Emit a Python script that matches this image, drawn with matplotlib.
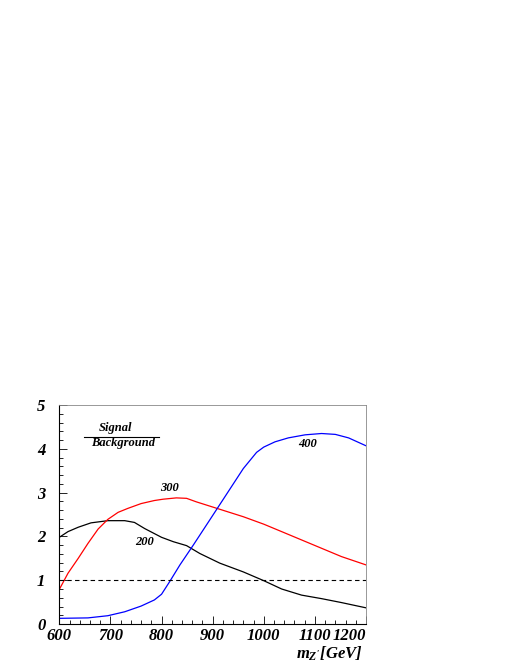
import matplotlib
matplotlib.use("Agg")
import matplotlib.pyplot as plt
from matplotlib.ticker import MultipleLocator

plt.rcParams["mathtext.fontset"] = "custom"
plt.rcParams["mathtext.it"] = "Liberation Serif:bold:italic"
plt.rcParams["mathtext.rm"] = "Liberation Serif:bold:italic"

x200 = [600, 617, 637, 662, 695, 728, 747, 767, 800, 823, 849, 875, 914, 960, 1000, 1035, 1074, 1113, 1152, 1200]
y200 = [1.98, 2.11, 2.21, 2.31, 2.36, 2.36, 2.32, 2.18, 1.98, 1.88, 1.79, 1.61, 1.39, 1.19, 0.99, 0.80, 0.66, 0.58, 0.49, 0.37]

x300 = [600, 617, 637, 656, 676, 695, 715, 734, 760, 786, 803, 829, 849, 868, 914, 960, 1000, 1035, 1074, 1113, 1152, 1200]
y300 = [0.79, 1.16, 1.50, 1.84, 2.17, 2.39, 2.55, 2.64, 2.75, 2.82, 2.85, 2.88, 2.87, 2.79, 2.62, 2.45, 2.28, 2.11, 1.92, 1.73, 1.54, 1.35]

x400 = [600, 656, 695, 728, 760, 786, 800, 816, 836, 862, 894, 927, 960, 986, 1000, 1022, 1048, 1081, 1113, 1140, 1166, 1200]
y400 = [0.13, 0.14, 0.19, 0.28, 0.41, 0.55, 0.68, 0.97, 1.35, 1.80, 2.37, 2.96, 3.55, 3.92, 4.04, 4.16, 4.25, 4.32, 4.35, 4.33, 4.25, 4.07]

ref_level = 1.0
xticks = [600, 700, 800, 900, 1000, 1100, 1200]
yticks = [0, 1, 2, 3, 4, 5]

font = dict(family="Liberation Serif", weight="bold", style="italic")

fig = plt.figure(figsize=(5.1, 6.6), dpi=100)
ax = fig.add_axes([0.1163, 0.0545, 0.6013, 0.3318])

ax.plot(x200, y200, color="black", lw=0.9)
ax.plot(x300, y300, color="red", lw=0.9)
ax.plot(x400, y400, color="blue", lw=0.9)
ax.axhline(ref_level, color="black", lw=0.8, ls=(0, (4, 3)))

ax.set_xlim(600, 1200)
ax.set_ylim(0, 5)
ax.set_xticks(xticks)
ax.set_yticks(yticks)
ax.xaxis.set_minor_locator(MultipleLocator(20))
ax.yaxis.set_minor_locator(MultipleLocator(0.2))
ax.tick_params(which="both", direction="in", top=False, right=False)
ax.tick_params(which="major", length=6, width=0.6)
ax.tick_params(which="minor", length=3, width=0.6)
ax.set_xticklabels([str(v) for v in xticks], fontsize=12, **font)
ax.set_yticklabels([str(v) for v in yticks], fontsize=12, **font)
ax.tick_params(axis="y", pad=10)
ax.tick_params(axis="x", pad=3)
ax.get_xticklabels()[-1].set_horizontalalignment("right")
for s in ["top", "right"]:
    ax.spines[s].set_color("#888888")
    ax.spines[s].set_linewidth(0.6)
for s in ["left", "bottom"]:
    ax.spines[s].set_linewidth(0.8)

ax.text(816, 3.1, "300", fontsize=9, ha="center", va="center", **font)
ax.text(767, 1.87, "200", fontsize=9, ha="center", va="center", **font)
ax.text(1086, 4.11, "400", fontsize=9, ha="center", va="center", **font)
ax.text(709, 4.47, "Signal", fontsize=9, ha="center", va="center", **font)
ax.text(724, 4.14, "Background", fontsize=9, ha="center", va="center", **font)
ax.plot([648, 795], [4.28, 4.28], color="black", lw=0.8)

fig.text(363 / 510, 1 - 654 / 660, r"$m_{Z'}$[GeV]", fontsize=12,
         ha="right", va="center", **font)

fig.savefig("out.png", dpi=100)
